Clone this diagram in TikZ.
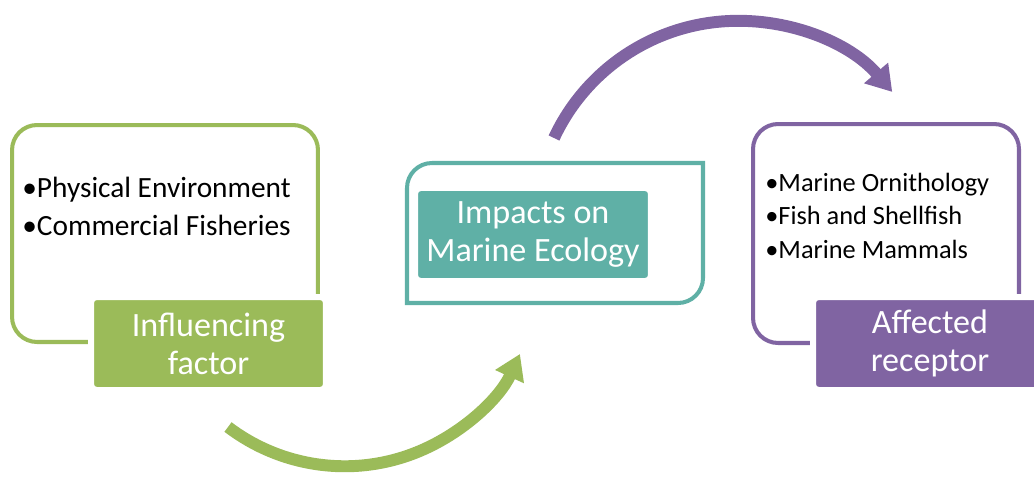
\documentclass[tikz,border=0pt]{standalone}
\usepackage{fontspec}
\setmainfont{Carlito}
\usetikzlibrary{arrows.meta}

\definecolor{leaf}{HTML}{9BBB59}
\definecolor{sea}{HTML}{5FB0A6}
\definecolor{plum}{HTML}{8064A2}

\begin{document}
\begin{tikzpicture}[
  x=0.02cm, y=0.02cm,
  frame/.style={rectangle, rounded corners=0.5cm, line width=2.3pt, inner sep=0pt},
  title/.style={rectangle, rounded corners=3pt, draw=white, line width=3.4pt, text=white, align=center, inner sep=0pt, font=\fontsize{19.4}{21.5}\selectfont},
  items/.style={anchor=base west, align=left, inner sep=0pt},
  curvearrow/.style={line width=6.8pt, -{Triangle[length=0.5cm, width=0.6cm]}}
]
\useasboundingbox (0,0) rectangle (1034,478);

% Outer frames
\node[frame, draw=leaf, minimum width=6.12cm, minimum height=4.34cm] (leftframe) at (165,244.5) {};
\node[frame, draw=plum, minimum width=5.32cm, minimum height=4.38cm] (rightframe) at (886,244.5) {};
\draw[sea, line width=2.3pt] (407,175) -- (407,290) arc[start angle=180, end angle=90, radius=0.5cm]
  -- (703,315) -- (703,200) arc[start angle=0, end angle=-90, radius=0.5cm] -- cycle;

% Bullet lists (base = last line)
\node[items, font=\fontsize{16.7}{21.6}\selectfont] (drivers) at (22,243) {•Physical Environment\\•Commercial Fisheries};
\node[items, font=\fontsize{15}{18.8}\selectfont] (receptors) at (765,220) {•Marine Ornithology\\•Fish and Shellfish\\•Marine Mammals};

% Title boxes
\node[title, fill=leaf, minimum width=4.7cm, minimum height=1.86cm] (infl) at (208.5,134.5) {Influencing\\factor};
\node[title, fill=sea, minimum width=4.72cm, minimum height=1.86cm] (impact) at (533,243.5) {Impacts on\\Marine Ecology};
\node[title, fill=plum, minimum width=4.68cm, minimum height=1.86cm] (recept) at (930,134.5) {Affected\\receptor};

% Curved arrows between the stages
\coordinate (gstart) at (228,51);
\coordinate (pstart) at (554,340);
\draw[curvearrow, leaf] (gstart) arc[start angle=232.8, end angle=335.3, radius=3.86cm];
\draw[curvearrow, plum] (pstart) arc[start angle=155, end angle=40.5, radius=4.06cm];

\end{tikzpicture}
\end{document}
